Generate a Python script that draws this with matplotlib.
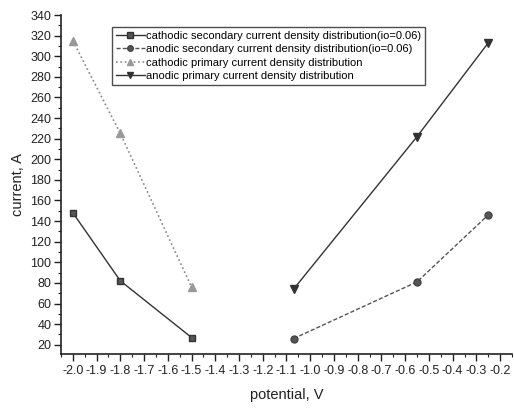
import matplotlib
matplotlib.use("Agg")
import matplotlib.pyplot as plt
from matplotlib.ticker import MultipleLocator, FixedLocator

plt.rcParams['font.family'] = ['Liberation Sans', 'DejaVu Sans']

cath_x = [-2.0, -1.8, -1.5]
cath_sec = [148, 82, 27]
cath_pri = [315, 225, 76]
anod_x = [-1.07, -0.55, -0.25]
anod_sec = [26, 81, 146]
anod_pri = [74, 222, 313]

xticks = [-2.0, -1.9, -1.8, -1.7, -1.6, -1.5, -1.4, -1.3, -1.2, -1.1, -1.0,
          -0.9, -0.8, -0.7, -0.6, -0.5, -0.4, -0.3, -0.2]
xtick_labels = ["-2.0", "-1.9", "-1.8", "-1.7", "-1.6", "-1.5", "-1.4", "-1.3",
                "-1.2", "-1.1", "-1.0", "-0.9", "-0.8", "-0.7", "-0.6", "-0.5",
                "-0.4", "-0.3", "-0.2"]
labels = ["cathodic secondary current density distribution(io=0.06)",
          "anodic secondary current density distribution(io=0.06)",
          "cathodic primary current density distribution",
          "anodic primary current density distribution"]

fig = plt.figure(figsize=(5.14, 4.08), dpi=100)
ax = fig.add_axes([61/514, 1-354/408, (512-61)/514, (354-15)/408])

ax.plot(cath_x, cath_sec, '-', color='#333333', lw=1.0, marker='s', ms=5,
        mfc='#555555', mec='#333333', label=labels[0])
ax.plot(anod_x, anod_sec, '--', color='#555555', lw=1.0, marker='o', ms=5,
        mfc='#555555', mec='#444444', dashes=(3, 1.5), label=labels[1])
ax.plot(cath_x, cath_pri, ':', color='#888888', lw=1.2, marker='^', ms=6,
        mfc='#999999', mec='#999999', label=labels[2])
ax.plot(anod_x, anod_pri, '-', color='#333333', lw=1.0, marker='v', ms=6,
        mfc='#333333', mec='#333333', label=labels[3])

ax.set_xlim(-2.05, -0.15)
ax.set_ylim(11, 340)
ax.xaxis.set_major_locator(FixedLocator(xticks))
ax.set_xticklabels(xtick_labels)
ax.xaxis.set_minor_locator(MultipleLocator(0.05))
ax.yaxis.set_major_locator(MultipleLocator(20))
ax.yaxis.set_minor_locator(MultipleLocator(10))

for s in ['top', 'right']:
    ax.spines[s].set_visible(False)
for s in ['left', 'bottom']:
    ax.spines[s].set_linewidth(1.2)
    ax.spines[s].set_color('#222222')

ax.tick_params(axis='both', which='major', direction='out', length=5, width=1.0,
               labelsize=9, colors='#222222', pad=2)
ax.tick_params(axis='both', which='minor', direction='out', length=2.5, width=0.8,
               colors='#222222')
ax.tick_params(axis='x', pad=3)

ax.set_xlabel("potential, V", fontsize=10.5, color='#222222', labelpad=8)
ax.set_ylabel("current, A", fontsize=10.5, color='#222222', labelpad=4)

leg = ax.legend(loc='upper left', bbox_to_anchor=((112-61)/451, (354-27)/339),
                fontsize=8, frameon=True, fancybox=False, edgecolor='#222222',
                handlelength=2.6, handletextpad=0.1, borderpad=0.35,
                labelspacing=0.3, borderaxespad=0, markerscale=0.8)
leg.get_frame().set_linewidth(1.0)

fig.savefig("out.png", dpi=100)
